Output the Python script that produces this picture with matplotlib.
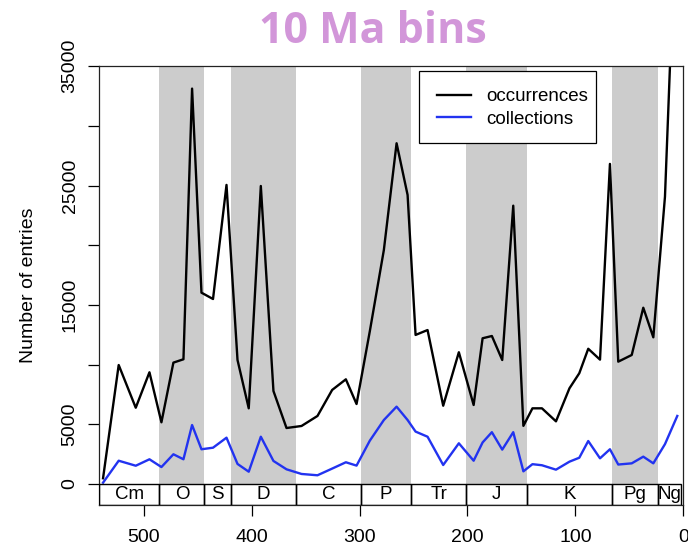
import numpy as np
import matplotlib
matplotlib.use("Agg")
import matplotlib.pyplot as plt
from matplotlib.patches import Rectangle

plt.rcParams['font.family'] = ['Liberation Sans', 'DejaVu Sans']

# bin midpoints (Ma) and counts per bin
ages = [537.7, 523.2, 507.4, 494.7, 483.6, 472.5, 463.2, 455.2, 446.5, 435.8,
        423.3, 413.1, 402.7, 391.5, 379.8, 367.7, 353.8, 339.0, 325.4, 312.7,
        302.8, 290.5, 277.5, 265.7, 255.5, 248.1, 237.0, 222.5, 208.0, 194.3,
        186.0, 177.4, 167.8, 157.6, 148.2, 139.8, 131.0, 118.0, 105.5, 96.4,
        88.1, 77.2, 68.0, 60.3, 47.8, 37.1, 27.8, 17.0, 5.6]
occurrences = [480, 9970, 6390, 9360, 5170, 10170, 10450, 33130, 16030, 15500,
               25060, 10390, 6340, 24970, 7790, 4690, 4860, 5700, 7880, 8770,
               6700, 12800, 19600, 28550, 24220, 12490, 12900, 6560, 11040, 6620,
               12210, 12400, 10390, 23320, 4870, 6340, 6340, 5250, 8020, 9280,
               11330, 10420, 26820, 10250, 10810, 14770, 12290, 24080, 51000]
collections = [110, 1950, 1530, 2070, 1420, 2490, 2070, 4940, 2910, 3040,
               3880, 1680, 1030, 3960, 1930, 1230, 840, 730, 1290, 1820,
               1540, 3630, 5360, 6480, 5360, 4390, 3960, 1590, 3410, 1950,
               3480, 4340, 2880, 4340, 1060, 1660, 1570, 1200, 1870, 2200,
               3600, 2150, 2910, 1630, 1730, 2290, 1730, 3340, 5700]

# geological periods
periods = ["Cm", "O", "S", "D", "C", "P", "Tr", "J", "K", "Pg", "Ng"]
p_start = [541, 485.4, 443.8, 419.2, 358.9, 298.9, 251.9, 201.3, 145, 66, 23.03]
p_end = [485.4, 443.8, 419.2, 358.9, 298.9, 251.9, 201.3, 145, 66, 23.03, 2.58]
shaded = ["O", "D", "P", "J", "Pg"]

ymax = 35000
ybox = -1760

fig = plt.figure(figsize=(6.88, 5.51), dpi=100)
ax = fig.add_axes([0.1446, 0.0835, 0.8486, 0.7962])

for name, a, b in zip(periods, p_start, p_end):
    if name in shaded:
        ax.axvspan(b, a, ymin=(0 - ybox) / (ymax - ybox), ymax=1,
                   color='#cccccc', lw=0, zorder=0)
    ax.add_patch(Rectangle((b, ybox), a - b, -ybox, fill=False,
                           edgecolor='black', lw=1, zorder=3))
    ax.text((a + b) / 2, ybox / 2, name, ha='center', va='center',
            fontsize=13.5, zorder=4)

ax.plot(ages, occurrences, color='black', lw=1.7, label='occurrences', zorder=2)
ax.plot(ages, collections, color='#2233f0', lw=1.7, label='collections', zorder=2)

ax.set_xlim(541, 0)
ax.set_ylim(ybox, ymax)

ax.set_xticks([500, 400, 300, 200, 100, 0])
ax.tick_params(axis='x', length=8, width=0.9, pad=9.5, labelsize=14)
yt = np.arange(0, 35001, 5000)
ax.set_yticks(yt)
ax.set_yticklabels([str(v) if v in (0, 5000, 15000, 25000, 35000) else '' for v in yt])
ax.tick_params(axis='y', length=8, width=0.9, pad=7, labelsize=14)
plt.setp(ax.get_yticklabels(), rotation=90, va='center')

ax.set_ylabel('Number of entries', fontsize=14)
ax.yaxis.set_label_coords(-0.1076, 0.5)

for s in ax.spines.values():
    s.set_color('#222222')
    s.set_linewidth(0.9)

# legend: white box drawn in figure coords, entries without frame on top
box = Rectangle((419.3 / 688, (551 - 142.7) / 551), 176.7 / 688, 72 / 551,
                transform=fig.transFigure, facecolor='white',
                edgecolor='black', lw=0.9, zorder=5, clip_on=False)
ax.add_patch(box)
leg = ax.legend(loc='center left', bbox_to_anchor=(436.7 / 688, (551 - 107.85) / 551),
                bbox_transform=fig.transFigure, frameon=False, fontsize=13.5,
                borderpad=0, borderaxespad=0, handlelength=1.81,
                handletextpad=0.84, labelspacing=0.29)
leg.set_zorder(6)

fig.text(373 / 688, (551 - 43) / 551, '10 Ma bins', ha='center', va='baseline',
         fontsize=31, fontweight='bold', family='Open Sans', color='#d296d9')

fig.savefig('out.png', dpi=100)
